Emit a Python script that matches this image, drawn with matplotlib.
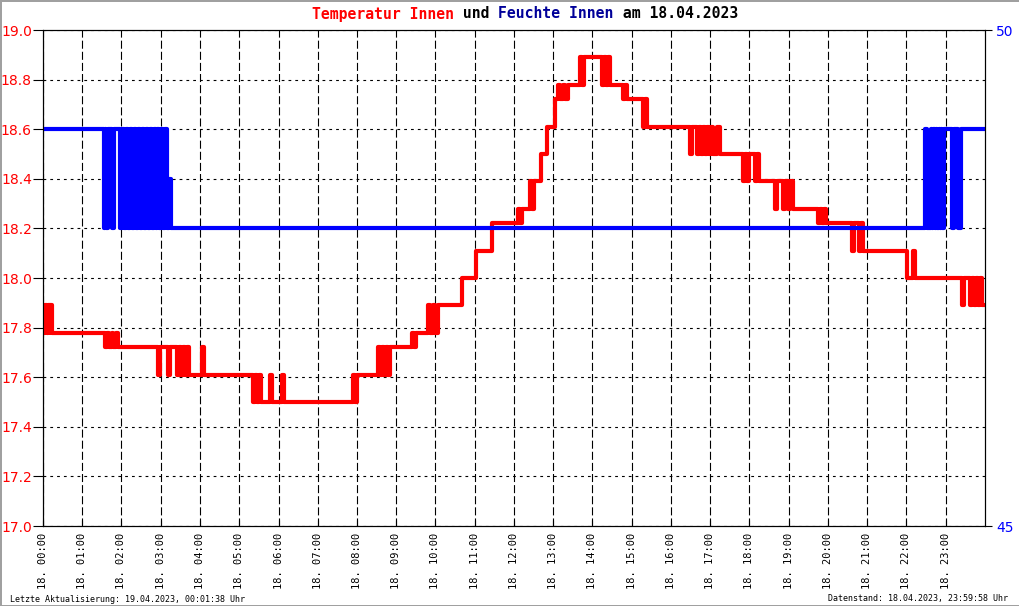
import matplotlib
matplotlib.use('Agg')
import matplotlib.pyplot as plt

# Temperatur Innen: Zeitpunkt (Minuten seit 00:00) und Wert ab diesem Zeitpunkt
temp_min = [0, 2, 3, 6, 7, 10, 11, 13,
            95, 98, 101, 105, 107, 112, 115,
            176, 179, 191, 194, 205, 208, 211, 214, 217, 220, 223, 243, 246,
            321, 324, 327, 330, 333, 347, 350, 365, 368,
            474, 477, 480, 512, 515, 518, 521, 524, 527, 530,
            564, 567, 570, 589, 592, 596, 599, 604, 641, 662, 686,
            726, 729, 732, 744, 748, 751, 761, 770,
            783, 787, 790, 795, 798, 803, 821, 824, 827,
            855, 858, 861, 864, 867, 887, 890, 893, 917, 920, 923,
            989, 992, 1000, 1003, 1006, 1009, 1012, 1015, 1018, 1021, 1024, 1030, 1035,
            1070, 1073, 1076, 1079, 1088, 1091, 1095, 1119, 1122, 1131, 1134, 1139, 1142, 1147,
            1185, 1188, 1191, 1194, 1197, 1237, 1240, 1247, 1250, 1254,
            1321, 1330, 1333, 1405, 1408, 1417, 1420, 1423, 1426, 1429, 1432, 1435, 1440]
temp_val = [17.89, 17.78, 17.89, 17.78, 17.89, 17.78, 17.89, 17.78,
            17.72, 17.78, 17.72, 17.78, 17.72, 17.78, 17.72,
            17.61, 17.72, 17.61, 17.72, 17.61, 17.72, 17.61, 17.72, 17.61, 17.72, 17.61, 17.72, 17.61,
            17.50, 17.61, 17.50, 17.61, 17.50, 17.61, 17.50, 17.61, 17.50,
            17.61, 17.50, 17.61, 17.72, 17.61, 17.72, 17.61, 17.72, 17.61, 17.72,
            17.78, 17.72, 17.78, 17.89, 17.78, 17.89, 17.78, 17.89, 18.00, 18.11, 18.22,
            18.28, 18.22, 18.28, 18.39, 18.28, 18.39, 18.50, 18.61,
            18.72, 18.78, 18.72, 18.78, 18.72, 18.78, 18.89, 18.78, 18.89,
            18.78, 18.89, 18.78, 18.89, 18.78, 18.72, 18.78, 18.72, 18.61, 18.72, 18.61,
            18.50, 18.61, 18.50, 18.61, 18.50, 18.61, 18.50, 18.61, 18.50, 18.61, 18.50, 18.61, 18.50,
            18.39, 18.50, 18.39, 18.50, 18.39, 18.50, 18.39, 18.28, 18.39, 18.28, 18.39, 18.28, 18.39, 18.28,
            18.22, 18.28, 18.22, 18.28, 18.22, 18.11, 18.22, 18.11, 18.22, 18.11,
            18.00, 18.11, 18.00, 17.89, 18.00, 17.89, 18.00, 17.89, 18.00, 17.89, 18.00, 17.89, 17.89]

# Feuchte Innen (%)
hum_min = [0, 93, 95, 97, 99, 106, 109,
           118, 121, 124, 127, 130, 133, 136, 139, 142, 145, 148, 151, 154,
           157, 160, 163, 166, 169, 172, 175, 178, 181, 184, 187, 190, 193, 196,
           1348, 1352, 1357, 1359, 1361, 1363, 1365, 1367, 1369, 1371, 1373, 1375, 1377,
           1390, 1393, 1399, 1403, 1440]
hum_val = [49, 48, 49, 48, 49, 48, 49,
           48, 49, 48, 49, 48, 49, 48, 49, 48, 49, 48, 49, 48,
           49, 48, 49, 48, 49, 48, 49, 48, 49, 48, 49, 48, 48.5, 48,
           49, 48, 49, 48, 49, 48, 49, 48, 49, 48, 49, 48, 49,
           48, 49, 48, 49, 49]

hours = list(range(24))
x_labels = ['18. %02d:00' % h for h in hours]
temp_ticks = [17.0, 17.2, 17.4, 17.6, 17.8, 18.0, 18.2, 18.4, 18.6, 18.8, 19.0]
hum_ticks = [45, 50]

mono = 'DejaVu Sans Mono'
plt.rcParams['lines.scale_dashes'] = False

fig = plt.figure(figsize=(10.2, 6.06), dpi=100)
fig.patch.set_edgecolor('#a0a0a0')
fig.patch.set_linewidth(2)

ax = fig.add_axes([43 / 1020, 80 / 606, 942 / 1020, 496 / 606])
ax.step(temp_min, temp_val, where='post', color='#ff0000', lw=3, zorder=3)
ax.set_xlim(0, 1440)
ax.set_ylim(17, 19)

ax.set_xticks([h * 60 for h in hours])
ax.set_xticklabels(x_labels, rotation=90, family=mono, fontsize=7.5)
ax.set_yticks(temp_ticks)
ax.set_yticklabels(['%.1f' % t for t in temp_ticks], fontsize=10)
ax.tick_params(axis='x', direction='in', length=4, pad=5)
ax.tick_params(axis='y', direction='out', length=7, pad=1, labelcolor='#ff0000')

# Gitternetz: senkrecht gestrichelt, waagerecht gepunktet
ax.xaxis.grid(True, linestyle=(0, (5.8, 2.2)), color='black', lw=0.8)
ax.yaxis.grid(True, linestyle=(0, (2.0, 2.9)), color='black', lw=0.8)

ax2 = ax.twinx()
ax2.step(hum_min, hum_val, where='post', color='#0000ff', lw=3)
ax2.set_ylim(45, 50)
ax2.set_yticks(hum_ticks)
ax2.set_yticklabels([str(t) for t in hum_ticks], fontsize=10)
ax2.tick_params(axis='y', direction='out', length=5, pad=3, labelcolor='#0000ff')

# Titel in mehreren Farben
title_size = 10.6
parts = [('Temperatur Innen', '#ff0000'), (' und ', 'black'),
         ('Feuchte Innen', '#000099'), (' am 18.04.2023', 'black')]
char_w = 0.602 * title_size / 72 * 100
total = sum(len(p[0]) for p in parts)
x = 525 - total * char_w / 2
for txt, col in parts:
    fig.text(x / 1020, 1 - 14 / 606, txt, color=col, family=mono, fontsize=title_size,
             fontweight='bold', ha='left', va='center')
    x += len(txt) * char_w

fig.text(10 / 1020, 1 - 599 / 606, 'Letzte Aktualisierung: 19.04.2023, 00:01:38 Uhr',
         family=mono, fontsize=6, ha='left', va='center')
fig.text(1008 / 1020, 1 - 599 / 606, 'Datenstand: 18.04.2023, 23:59:58 Uhr',
         family=mono, fontsize=6, ha='right', va='center')

fig.savefig('out.png', dpi=100)
